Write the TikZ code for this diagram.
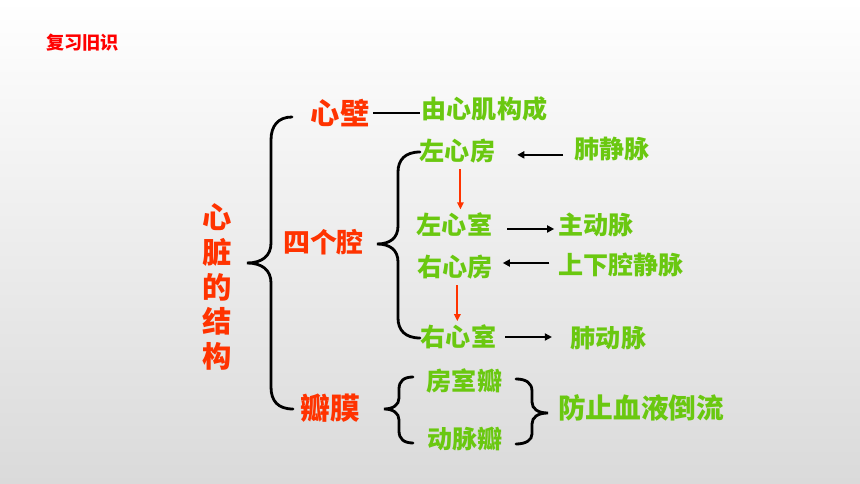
\documentclass[tikz,border=0pt]{standalone}
\usepackage{fontspec}
\usepackage{xcolor}
\usetikzlibrary{shapes,arrows,arrows.meta,positioning,calc}
\setmainfont{Noto Sans CJK SC}
\definecolor{hred}{RGB}{255,51,0}
\definecolor{hgreen}{RGB}{106,200,16}
\definecolor{bgbot}{RGB}{218,218,218}

\begin{document}
\begin{tikzpicture}[x=0.03cm, y=-0.03cm,
    part/.style={inner sep=0pt, text=hred, font=\bfseries\fontsize{24}{28}\selectfont},
    item/.style={inner sep=0pt, text=hgreen, font=\bfseries\fontsize{21.4}{25}\selectfont},
    brace/.style={line width=2.4pt, line cap=round},
    arr/.style={-{Triangle[length=6pt,width=6pt]}, line width=1.9pt},
    redarr/.style={-{Triangle[length=6pt,width=5.5pt]}, line width=1.8pt, draw=hred, fill=hred}]
    \useasboundingbox (0,0) rectangle (860,484);
    \shade[top color=white, bottom color=bgbot] (0,0) rectangle (860,484);

    \node (title) [inner sep=0pt, text=red, font=\bfseries\fontsize{15.5}{18}\selectfont] at (82.5,43) {复习旧识};
    \node (heart) [part, align=center, font=\bfseries\fontsize{25}{29.5}\selectfont] at (217.5,287) {心\\脏\\的\\结\\构};

    \node (wall) [part, font=\bfseries\fontsize{25}{29}\selectfont] at (340,113) {心壁};
    \node (muscle) [item] at (484.5,109) {由心肌构成};
    \node (cavity) [part, font=\bfseries\fontsize{23}{27}\selectfont] at (323.5,242) {四个腔};
    \node (valve) [part, font=\bfseries\fontsize{25.5}{29}\selectfont] at (330.5,408) {瓣膜};

    \node (la) [item] at (457.5,151) {左心房};
    \node (lv) [item] at (454.5,225) {左心室};
    \node (ra) [item] at (455,267) {右心房};
    \node (rv) [item] at (458.5,337) {右心室};
    \node (pvein) [item] at (612,149) {肺静脉};
    \node (aorta) [item] at (596,225) {主动脉};
    \node (vcava) [item] at (621,265) {上下腔静脉};
    \node (partery) [item] at (608.5,338) {肺动脉};

    \node (avvalve) [item] at (464.5,381) {房室瓣};
    \node (artvalve) [item] at (465,439) {动脉瓣};
    \node (backflow) [item, font=\bfseries\fontsize{23.6}{28}\selectfont] at (641,408) {防止血液倒流};

    % braces
    \draw [brace] (292,117) .. controls (278,117) and (271,126) .. (271,140) -- (271,243)
        .. controls (271,256) and (262,263) .. (247,263) .. controls (262,263) and (271,270) .. (271,283)
        -- (271,387) .. controls (271,401) and (278,409) .. (293,409);
    \draw [brace] (420,152) .. controls (405,152) and (398,160) .. (398,172) -- (398,226)
        .. controls (398,238) and (390,244) .. (377,244) .. controls (390,244) and (398,250) .. (398,262)
        -- (398,318) .. controls (398,330) and (405,338) .. (420,338);
    \draw [brace] (413,377) .. controls (404,377) and (399,381) .. (399,389) -- (399,398)
        .. controls (399,405) and (393,409) .. (384,409) .. controls (393,409) and (399,413) .. (399,420)
        -- (399,431) .. controls (399,439) and (404,443) .. (413,443);
    \draw [brace] (516,379) .. controls (526,379) and (532,383) .. (532,391) -- (532,402)
        .. controls (532,409) and (538,413) .. (548,413) .. controls (538,413) and (532,417) .. (532,424)
        -- (532,434) .. controls (532,440) and (526,444) .. (516,444);

    \draw [line width=2pt, shorten <=3pt, shorten >=1pt] (wall.east) -- (wall.east -| muscle.west);

    \draw [arr, shorten <=9.4pt, shorten >=18.7pt] ([yshift=-5pt]pvein.west) -- ([yshift=-5pt]pvein.west -| la.east);
    \draw [arr, shorten <=12.8pt, shorten >=3.4pt] ([yshift=-3.4pt]lv.east) -- ([yshift=-3.4pt]lv.east -| aorta.west);
    \draw [arr, shorten <=7.4pt, shorten >=8.5pt] ([yshift=1.7pt]vcava.west) -- ([yshift=1.7pt]vcava.west -| ra.east);
    \draw [arr, shorten <=7.7pt, shorten >=16pt] (rv.east) -- (rv.east -| partery.west);

    \draw [redarr, shorten <=5pt, shorten >=3pt] ([xshift=2.5pt]la.south) -- ([xshift=2.5pt]la.south |- lv.north);
    \draw [redarr, shorten <=5pt, shorten >=3pt] ([xshift=2pt]ra.south) -- ([xshift=2pt]ra.south |- rv.north);
\end{tikzpicture}
\end{document}
